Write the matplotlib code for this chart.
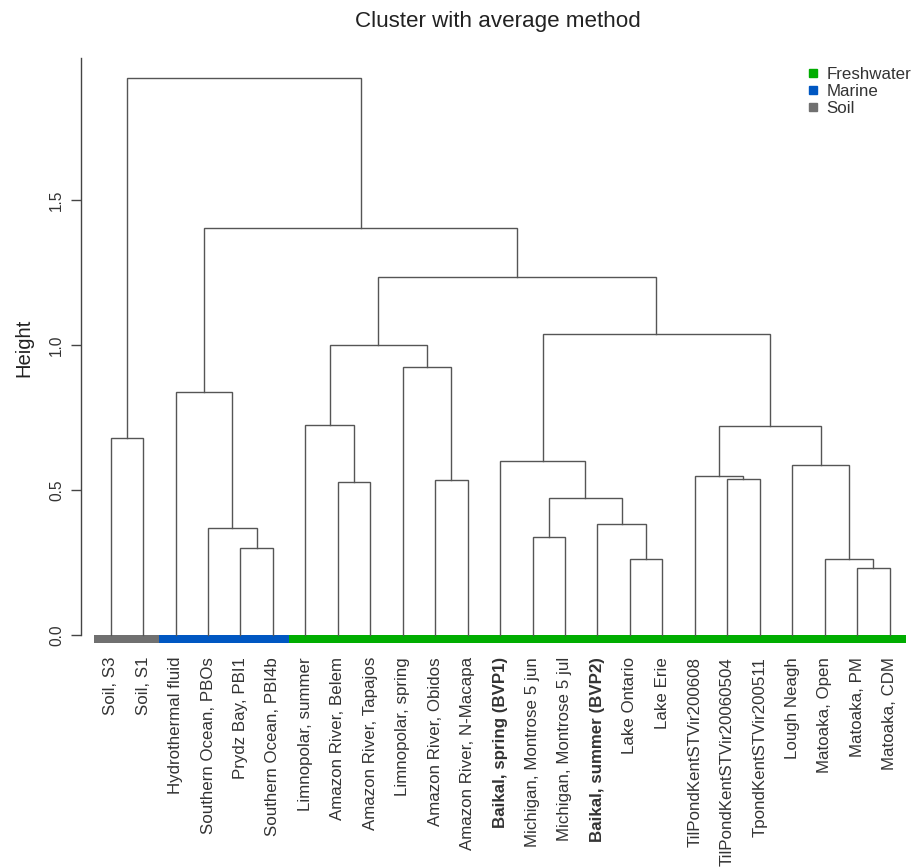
import matplotlib
matplotlib.use("Agg")
import matplotlib.pyplot as plt
from matplotlib.lines import Line2D

plt.rcParams['font.family'] = ['Liberation Sans', 'DejaVu Sans']

# leaf labels in dendrogram order
leaves = ['Soil, S3', 'Soil, S1', 'Hydrothermal fluid', 'Southern Ocean, PBOs',
          'Prydz Bay, PBI1', 'Southern Ocean, PBI4b', 'Limnopolar, summer',
          'Amazon River, Belem', 'Amazon River, Tapajos', 'Limnopolar, spring',
          'Amazon River, Obidos', 'Amazon River, N-Macapa', 'Baikal, spring (BVP1)',
          'Michigan, Montrose 5 jun', 'Michigan, Montrose 5 jul', 'Baikal, summer (BVP2)',
          'Lake Ontario', 'Lake Erie', 'TilPondKentSTVir200608',
          'TilPondKentSTVir20060504', 'TpondKentSTVir200511', 'Lough Neagh',
          'Matoaka, Open', 'Matoaka, PM', 'Matoaka, CDM']
bold_leaves = ['Baikal, spring (BVP1)', 'Baikal, summer (BVP2)']

# habitat of each leaf
habitat = ['Soil'] * 2 + ['Marine'] * 4 + ['Freshwater'] * 19
habitat_colors = {'Freshwater': '#00ad00', 'Marine': '#0057c2', 'Soil': '#707070'}

# the tree as merges: (left, right, height); ints = leaf positions (1-based), str = node names
tree = {
    'pm_cdm': (24, 25, 0.231),
    'mat': (23, 'pm_cdm', 0.262),
    'ont_erie': (17, 18, 0.260),
    'bvp2': (16, 'ont_erie', 0.381),
    'mich': (14, 15, 0.337),
    'mid': ('mich', 'bvp2', 0.472),
    'bvp1': (13, 'mid', 0.600),
    'til2': (20, 21, 0.536),
    'til': (19, 'til2', 0.548),
    'lough': (22, 'mat', 0.585),
    'ponds': ('til', 'lough', 0.721),
    'lakes': ('bvp1', 'ponds', 1.038),
    'bel_tap': (8, 9, 0.529),
    'limsum': (7, 'bel_tap', 0.723),
    'obi_mac': (11, 12, 0.534),
    'limspr': (10, 'obi_mac', 0.925),
    'amazon': ('limsum', 'limspr', 1.001),
    'fresh': ('amazon', 'lakes', 1.236),
    'pbi': (5, 6, 0.298),
    'pbos': (4, 'pbi', 0.370),
    'marine': (3, 'pbos', 0.839),
    'aquatic': ('marine', 'fresh', 1.404),
    'soil': (1, 2, 0.678),
    'root': ('soil', 'aquatic', 1.921),
}

fig = plt.figure(figsize=(9.14, 8.68), dpi=100)
ax = fig.add_axes([81 / 914, 1 - 643 / 868, 833 / 914, 588 / 868])

line_color = '#555555'


def node_pos(name):
    # draws the node's bracket, returns (x, height); leaves sit at height 0
    if isinstance(name, int):
        return float(name), 0.0
    left, right, h = tree[name]
    xl, hl = node_pos(left)
    xr, hr = node_pos(right)
    ax.plot([xl, xl, xr, xr], [hl, h, h, hr], color=line_color, lw=1.0,
            solid_joinstyle='miter', zorder=2)
    return (xl + xr) / 2, h


node_pos('root')

# coloured habitat bar under the leaves
for i, hab in enumerate(habitat):
    ax.bar(i + 1, -0.028, width=1.0, bottom=0, color=habitat_colors[hab],
           align='center', zorder=1, linewidth=0)

ax.set_xlim(0.085, 25.755)
ax.set_ylim(-0.028, 2.0)

for s in ['top', 'right', 'bottom']:
    ax.spines[s].set_visible(False)
ax.spines['left'].set_bounds(0, 1.99)
ax.spines['left'].set_color('#444444')
ax.spines['left'].set_linewidth(1.0)

ax.set_yticks([0.0, 0.5, 1.0, 1.5])
ax.set_yticklabels(['0.0', '0.5', '1.0', '1.5'], rotation=90, va='center')
ax.tick_params(axis='y', length=7, width=1.0, color='#444444', labelsize=11.2,
               labelcolor='#333333', pad=5)

ax.set_xticks(range(1, len(leaves) + 1))
ax.set_xticklabels(leaves, rotation=90, va='top', ha='center')
ax.tick_params(axis='x', length=0, pad=10, labelsize=12.2, labelcolor='#333333')
for lab in ax.get_xticklabels():
    if lab.get_text() in bold_leaves:
        lab.set_fontweight('bold')

fig.text(24 / 914, 1 - 348 / 868, 'Height', rotation=90, ha='center', va='center',
         fontsize=14.6, color='#222222')
fig.text(498 / 914, 1 - 22 / 868, 'Cluster with average method', ha='center',
         va='center', fontsize=16.1, color='#222222')

handles = [Line2D([], [], marker='s', linestyle='', markersize=5.5,
                  color=habitat_colors[h], label=h) for h in ['Freshwater', 'Marine', 'Soil']]
leg = fig.legend(handles=handles, loc='upper left', bbox_to_anchor=(806 / 914, 1 - 67 / 868),
                 frameon=False, fontsize=12.2, handlelength=0.8, handletextpad=0.4,
                 labelspacing=0.12, borderpad=0, borderaxespad=0)
for t in leg.get_texts():
    t.set_color('#333333')

fig.savefig('out.png', dpi=100)
